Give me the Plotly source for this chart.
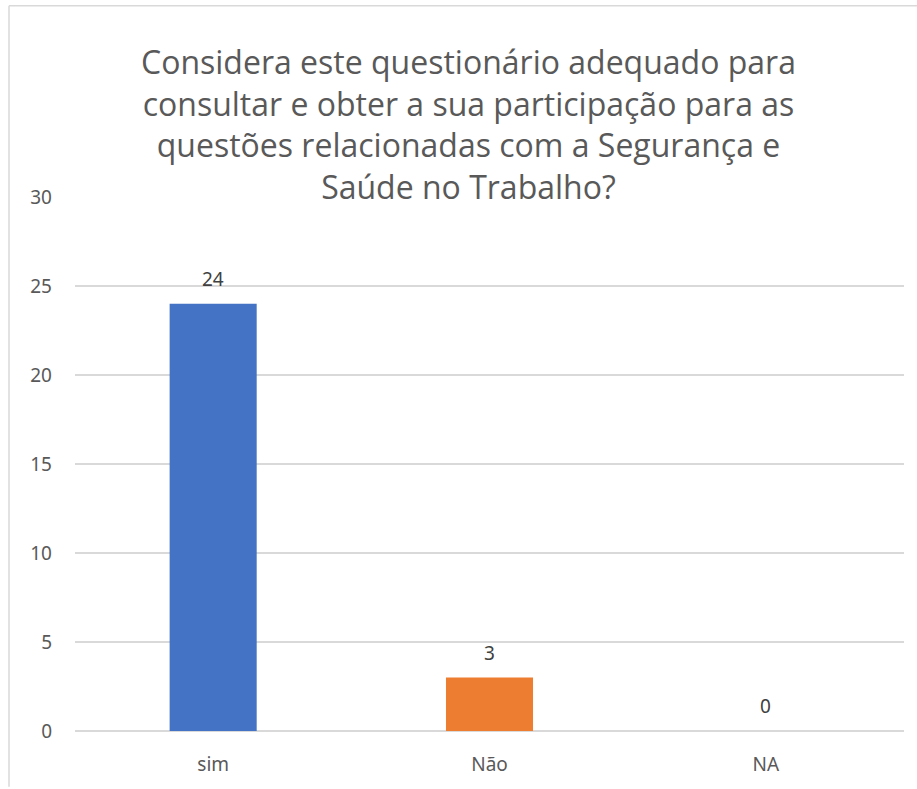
import plotly.graph_objects as go

categories = ["sim", "Não", "NA"]
values = [24, 3, 0]
colors = ["#4472C4", "#ED7D31", "#A5A5A5"]
y_ticks = [0, 5, 10, 15, 20, 25, 30]
title_lines = [
    "Considera este questionário adequado para",
    "consultar e obter a sua participação para as",
    "questões relacionadas com a Segurança e",
    "Saúde no Trabalho?",
]

W, H = 917, 789
L, R, T, B = 75, 13, 197, 56
pw, ph = W - L - R, H - T - B

def px_x(p):
    return (p - L) / pw

def px_y(p):
    return (H - B - p) / ph

fig = go.Figure()
fig.add_trace(go.Bar(
    x=categories, y=values, marker_color=colors, marker_line_width=0,
    hoverinfo="skip",
))

for c, v in zip(categories, values):
    fig.add_annotation(x=c, y=v, text=str(v), showarrow=False, yanchor="bottom",
                       yshift=10, font=dict(family="Noto Sans", size=19, color="#404040"))

fig.add_annotation(xref="paper", yref="paper", x=px_x(468), y=px_y(37), yanchor="top",
                   text="<br>".join(title_lines), showarrow=False, align="center",
                   font=dict(family="Open Sans", size=32, color="#595959"))

fig.update_layout(
    width=W, height=H,
    margin=dict(l=L, r=R, t=T, b=B, pad=0),
    paper_bgcolor="white", plot_bgcolor="white",
    bargap=0.685, showlegend=False,
    font=dict(family="Noto Sans", size=19, color="#595959"),
    shapes=[
        dict(type="line", xref="paper", yref="paper", x0=px_x(9), x1=px_x(917), y0=px_y(5), y1=px_y(5),
             line=dict(color="#d9d9d9", width=1.5)),
        dict(type="line", xref="paper", yref="paper", x0=px_x(9), x1=px_x(9), y0=px_y(5), y1=px_y(789),
             line=dict(color="#d9d9d9", width=1.5)),
    ],
)
fig.update_yaxes(range=[0, 30], tickvals=y_ticks, showgrid=True, gridcolor="#d9d9d9", gridwidth=1.5,
                 zeroline=True, zerolinecolor="#d9d9d9", zerolinewidth=1.5, showline=False,
                 ticks="", ticklabelstandoff=22, tickfont=dict(size=19, color="#595959"))
fig.update_xaxes(showgrid=False, showline=False, ticks="", ticklabelstandoff=20,
                 tickfont=dict(size=19, color="#595959"))

fig.write_html("out.html", config={"displayModeBar": False},
               post_script="document.body.style.margin='0';document.body.style.overflow='hidden';")
